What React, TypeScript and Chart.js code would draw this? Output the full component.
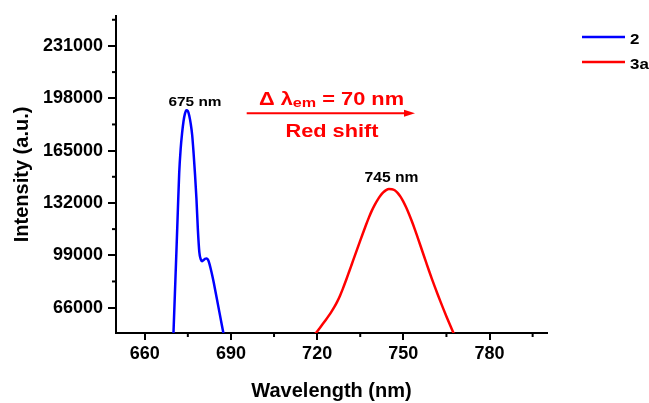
import React, { useEffect, useRef } from 'react';
import { Chart, registerables } from 'chart.js';

Chart.register(...registerables);

const FONT = '"Liberation Sans", Arial, Helvetica, sans-serif';

const seriesNames = ['2', '3a'];
const seriesColors = ['#0000FF', '#FF0000'];

// Series "2" (blue)
const wavelength2 = [
  670, 670.5, 671, 671.5, 672, 672.5, 673, 673.5, 674, 674.5, 675, 675.5, 676, 676.5, 677, 677.5,
  678, 678.5, 679, 679.5, 680, 680.5, 681, 681.5, 682, 682.5, 683, 683.5, 684, 685, 686, 687, 688,
];
const intensity2 = [
  50000, 75000, 100000, 126000, 151000, 166000, 176000, 183500, 188300, 190400, 190000, 187000,
  182000, 175000, 163500, 150000, 134500, 115000, 101000, 96500, 95300, 96000, 96800, 97000, 96300,
  93800, 90200, 86300, 82000, 72500, 63000, 53500, 44000,
];

// Series "3a" (red)
const wavelength3a = [
  719, 720, 721, 722, 723, 724, 725, 726, 727, 728, 729, 730, 731, 732, 733, 734, 735, 736, 737, 738,
  739, 740, 741, 742, 743, 744, 745, 746, 747, 748, 749, 750, 751, 752, 753, 754, 755, 756, 757, 758,
  759, 760, 761, 762, 763, 764, 765, 766, 767, 768,
];
const intensity3a = [
  48800, 51000, 53350, 55775, 58250, 60800, 63500, 66450, 69800, 73700, 78150, 82975, 87975, 93050,
  98150, 103225, 108250, 113225, 118100, 122750, 127000, 130650, 133800, 136500, 138600, 140050,
  140750, 140650, 140000, 138400, 136000, 132850, 129100, 124900, 120300, 115350, 110150, 104850,
  99500, 94200, 88950, 83850, 78900, 74100, 69450, 64900, 60450, 56100, 51850, 47700,
];

const xRange = [650, 800];
const yRange = [50000, 250000];
const xMajorTicks = [660, 690, 720, 750, 780];
const xMinorTicks = [675, 705, 735, 765, 795];
const yMajorTicks = [66000, 99000, 132000, 165000, 198000, 231000];
const yMinorTicks = [82500, 115500, 148500, 181500, 214500, 247500];

const xTitle = 'Wavelength (nm)';
const yTitle = 'Intensity (a.u.)';
const peakLabels = ['675 nm', '745 nm'];
const shiftParts = ['Δ λ', 'em', ' = 70 nm'];
const shiftCaption = 'Red shift';

function drawFit(ctx: CanvasRenderingContext2D, text: string, x: number, baseline: number, size: number, width: number, align: 'center' | 'left' = 'center') {
  ctx.font = `bold ${size}px ${FONT}`;
  const w = ctx.measureText(text).width;
  const sx = width / w;
  ctx.save();
  ctx.translate(x, baseline);
  ctx.scale(sx, 1);
  ctx.textAlign = align;
  ctx.textBaseline = 'alphabetic';
  ctx.fillText(text, 0, 0);
  ctx.restore();
}

const decorPlugin = {
  id: 'decor',
  afterDraw(chart: any) {
    const ctx: CanvasRenderingContext2D = chart.ctx;
    const xs = chart.scales.x;
    const ys = chart.scales.y;
    const ca = chart.chartArea;
    ctx.save();

    // minor ticks
    ctx.strokeStyle = '#000';
    ctx.lineWidth = 2;
    xMinorTicks.forEach((v) => {
      const px = xs.getPixelForValue(v);
      ctx.beginPath();
      ctx.moveTo(px, ca.bottom);
      ctx.lineTo(px, ca.bottom + 4);
      ctx.stroke();
    });
    yMinorTicks.forEach((v) => {
      if (v > yRange[1] || v < yRange[0]) return;
      const py = ys.getPixelForValue(v);
      ctx.beginPath();
      ctx.moveTo(ca.left, py);
      ctx.lineTo(ca.left - 4, py);
      ctx.stroke();
    });

    // legend
    chart.data.datasets.forEach((ds: any, i: number) => {
      const y = 37 + i * 25;
      ctx.strokeStyle = ds.borderColor;
      ctx.lineWidth = 2.5;
      ctx.beginPath();
      ctx.moveTo(582, y);
      ctx.lineTo(625, y);
      ctx.stroke();
      ctx.fillStyle = '#000';
      ctx.font = `bold 15px ${FONT}`;
      const w = ctx.measureText(ds.label).width;
      drawFit(ctx, ds.label, 630, y + 6.5, 15, w * 1.13, 'left');
    });

    // peak labels
    const series = [
      [wavelength2, intensity2],
      [wavelength3a, intensity3a],
    ];
    const dxs = [8.6, 2.5];
    const dys = [-4.4, -7.3];
    const widths = [53, 54];
    const sizes = [13.5, 14];
    ctx.fillStyle = '#000';
    series.forEach(([wl, it], i) => {
      let mi = 0;
      it.forEach((v, k) => { if (v > it[mi]) mi = k; });
      const px = xs.getPixelForValue(wl[mi]) + dxs[i];
      const py = ys.getPixelForValue(it[mi]) + dys[i];
      drawFit(ctx, peakLabels[i], px, py, sizes[i], widths[i]);
    });

    // red shift annotation
    const cx = (ca.left + ca.right) / 2;
    ctx.fillStyle = '#FF0000';
    const sizesS = [17.5, 13, 17.5];
    const ws = shiftParts.map((t, k) => {
      ctx.font = `bold ${sizesS[k]}px ${FONT}`;
      return ctx.measureText(t).width;
    });
    const total = ws.reduce((a, b) => a + b, 0);
    const targetW = 145;
    const sx = targetW / total;
    let xx = cx - targetW / 2;
    const base = 105;
    shiftParts.forEach((t, k) => {
      ctx.font = `bold ${sizesS[k]}px ${FONT}`;
      ctx.save();
      ctx.translate(xx, k === 1 ? base + 2 : base);
      ctx.scale(sx, 1);
      ctx.textAlign = 'left';
      ctx.textBaseline = 'alphabetic';
      ctx.fillText(t, 0, 0);
      ctx.restore();
      xx += ws[k] * sx;
    });

    // arrow
    ctx.strokeStyle = '#FF0000';
    ctx.lineWidth = 2;
    ctx.beginPath();
    ctx.moveTo(246.7, 113.3);
    ctx.lineTo(406, 113.3);
    ctx.stroke();
    ctx.beginPath();
    ctx.moveTo(415, 113.3);
    ctx.lineTo(404, 109.8);
    ctx.lineTo(404, 116.8);
    ctx.closePath();
    ctx.fill();

    drawFit(ctx, shiftCaption, cx + 0.5, 137.3, 19, 93);

    ctx.restore();
  },
};

export default function App() {
  const ref = useRef<HTMLCanvasElement | null>(null);

  useEffect(() => {
    if (!ref.current) return;
    const tickFont = { family: FONT, size: 18, weight: 'bold' as const };
    const titleFont = { family: FONT, size: 20, weight: 'bold' as const };
    const chart = new Chart(ref.current, {
      type: 'line',
      data: {
        datasets: [
          {
            label: seriesNames[0],
            data: wavelength2.map((x, i) => ({ x, y: intensity2[i] })),
            borderColor: seriesColors[0],
            backgroundColor: seriesColors[0],
            borderWidth: 2.5,
            pointRadius: 0,
            cubicInterpolationMode: 'monotone',
            fill: false,
            clip: 0,
          },
          {
            label: seriesNames[1],
            data: wavelength3a.map((x, i) => ({ x, y: intensity3a[i] })),
            borderColor: seriesColors[1],
            backgroundColor: seriesColors[1],
            borderWidth: 2.5,
            pointRadius: 0,
            cubicInterpolationMode: 'monotone',
            fill: false,
            clip: 0,
          },
        ],
      },
      options: {
        responsive: false,
        animation: false,
        devicePixelRatio: 1,
        layout: { padding: { top: 12, right: 102, left: 0, bottom: 0 } },
        plugins: {
          legend: { display: false },
          tooltip: { enabled: false },
        },
        scales: {
          x: {
            type: 'linear',
            min: xRange[0],
            max: xRange[1],
            afterBuildTicks: (s: any) => {
              s.ticks = xMajorTicks.map((v) => ({ value: v }));
            },
            afterFit: (s: any) => {
              s.height = 70;
            },
            grid: { drawOnChartArea: false, drawTicks: true, tickLength: 7, color: '#000', lineWidth: 2 },
            border: { display: true, color: '#000', width: 2 },
            ticks: {
              color: '#000',
              font: tickFont,
              padding: 3,
              maxRotation: 0,
              autoSkip: false,
              callback: (v: any) => String(v),
            },
            title: { display: true, text: xTitle, color: '#000', font: titleFont, padding: 0 },
          },
          y: {
            type: 'linear',
            min: yRange[0],
            max: yRange[1],
            afterBuildTicks: (s: any) => {
              s.ticks = yMajorTicks.map((v) => ({ value: v }));
            },
            afterFit: (s: any) => {
              s.width = 116;
            },
            grid: { drawOnChartArea: false, drawTicks: true, tickLength: 8, color: '#000', lineWidth: 2 },
            border: { display: true, color: '#000', width: 2 },
            ticks: {
              color: '#000',
              font: tickFont,
              padding: 5,
              autoSkip: false,
              callback: (v: any) => String(v),
            },
            title: { display: true, text: yTitle, color: '#000', font: titleFont, padding: { top: 10, bottom: 0 } },
          },
        },
      },
      plugins: [decorPlugin],
    } as any);
    return () => chart.destroy();
  }, []);

  return (
    <div style={{ position: 'fixed', left: 0, top: 0, width: 649, height: 403, background: '#fff' }}>
      <canvas ref={ref} width={649} height={403} />
    </div>
  );
}
